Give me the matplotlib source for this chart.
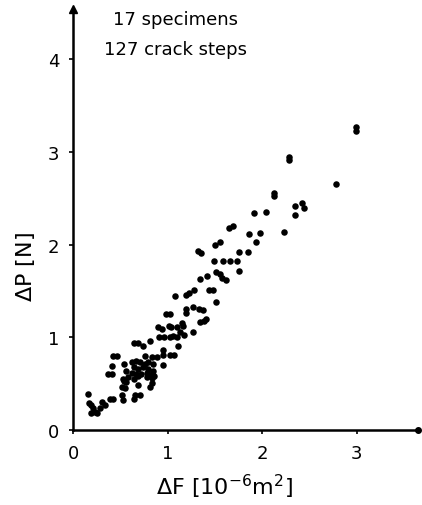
import matplotlib
matplotlib.use("Agg")
import matplotlib.pyplot as plt

# crack step data: area increment dF [1e-6 m^2], load drop dP [N]
dF_top = [2.99, 2.99, 2.28, 2.28, 2.78, 2.125, 2.125, 2.04, 1.91, 1.65, 1.69,
          2.23, 2.35, 2.42, 2.44, 2.35, 1.98, 1.86, 1.93, 1.50, 1.55,
          1.32, 1.35, 1.76, 1.85]
dP_top = [3.23, 3.27, 2.91, 2.95, 2.65, 2.52, 2.56, 2.35, 2.34, 2.18, 2.20,
          2.14, 2.42, 2.45, 2.39, 2.32, 2.13, 2.11, 2.03, 2.00, 2.03,
          1.93, 1.91, 1.92, 1.92]

dF_mid = [1.49, 1.59, 1.66, 1.73, 1.51, 1.55, 1.58, 1.62, 1.75, 1.34, 1.42,
          1.19, 1.23, 1.28, 1.08, 1.44, 1.48, 1.51, 1.27, 1.33, 1.37,
          1.19, 1.20, 0.98, 1.03, 1.34, 1.38, 1.41, 1.15, 0.90, 0.94,
          1.01, 1.04, 1.10, 1.13, 1.17, 1.16, 1.27, 0.91, 0.96, 1.03,
          1.06, 1.10, 1.11, 0.95, 0.95, 1.03, 1.07, 0.64, 0.69, 0.74,
          0.81, 0.84, 0.89, 0.95, 0.42, 0.47, 0.41, 0.37, 0.41, 0.76]
dP_mid = [1.82, 1.82, 1.82, 1.82, 1.71, 1.68, 1.64, 1.62, 1.72, 1.63, 1.66,
          1.46, 1.48, 1.51, 1.45, 1.51, 1.51, 1.38, 1.33, 1.31, 1.30,
          1.31, 1.26, 1.25, 1.25, 1.17, 1.18, 1.20, 1.16, 1.11, 1.09,
          1.12, 1.11, 1.11, 1.06, 1.03, 1.12, 1.06, 1.00, 1.00, 1.00,
          1.01, 1.00, 0.91, 0.86, 0.81, 0.81, 0.81, 0.94, 0.94, 0.91,
          0.96, 0.79, 0.79, 0.70, 0.80, 0.80, 0.69, 0.61, 0.60, 0.80]

dF_low = [0.54, 0.62, 0.67, 0.71, 0.76, 0.79, 0.85, 0.64, 0.69, 0.74, 0.79,
          0.85, 0.56, 0.62, 0.67, 0.72, 0.78, 0.83, 0.86, 0.58, 0.64,
          0.69, 0.78, 0.83, 0.53, 0.56, 0.83, 0.81, 0.69, 0.54, 0.52,
          0.55, 0.66, 0.71, 0.64, 0.52, 0.53, 0.39, 0.42, 0.31, 0.34,
          0.29, 0.16, 0.17, 0.19, 0.21, 0.23, 0.19, 0.25]
dP_low = [0.71, 0.73, 0.75, 0.73, 0.71, 0.73, 0.71, 0.68, 0.66, 0.68, 0.66,
          0.64, 0.64, 0.62, 0.61, 0.60, 0.62, 0.60, 0.58, 0.57, 0.55,
          0.58, 0.57, 0.56, 0.55, 0.52, 0.51, 0.47, 0.49, 0.53, 0.47,
          0.45, 0.38, 0.38, 0.34, 0.38, 0.33, 0.34, 0.34, 0.30, 0.27,
          0.24, 0.39, 0.29, 0.27, 0.24, 0.20, 0.18, 0.18]

dF = dF_top + dF_mid + dF_low
dP = dP_top + dP_mid + dP_low

x_ticks = [0, 1, 2, 3]
y_ticks = [0, 1, 2, 3, 4]

fig = plt.figure(figsize=(4.22, 5.06), dpi=100)
ax = fig.add_axes([0.173, 0.148, 0.818, 0.832])

ax.scatter(dF, dP, s=22, color="black", linewidths=0, clip_on=False)

ax.set_xlim(0, 3.65)
ax.set_ylim(0, 4.54)
ax.set_xticks(x_ticks)
ax.set_yticks(y_ticks)
ax.tick_params(labelsize=13, length=3, width=1.2, pad=7)

for side in ("top", "right"):
    ax.spines[side].set_visible(False)
for side in ("left", "bottom"):
    ax.spines[side].set_linewidth(1.8)

# arrow head on the y axis, dot at the end of the x axis
ax.plot(0, 1, marker="^", color="black", markersize=6,
        transform=ax.transAxes, clip_on=False)
ax.plot(1, 0, marker="o", color="black", markersize=4,
        transform=ax.transAxes, clip_on=False)

ax.set_xlabel(r"$\Delta$F [10$^{-6}$m$^{2}$]", fontsize=16)
ax.xaxis.set_label_coords(0.44, -0.1)
ax.set_ylabel(r"$\Delta$P [N]", fontsize=16)
ax.yaxis.set_label_coords(-0.105, 0.39)

ax.text(0.296, 0.976, "17 specimens", transform=ax.transAxes,
        ha="center", va="center", fontsize=13)
ax.text(0.296, 0.905, "127 crack steps", transform=ax.transAxes,
        ha="center", va="center", fontsize=13)

fig.savefig("out.png", dpi=100)
